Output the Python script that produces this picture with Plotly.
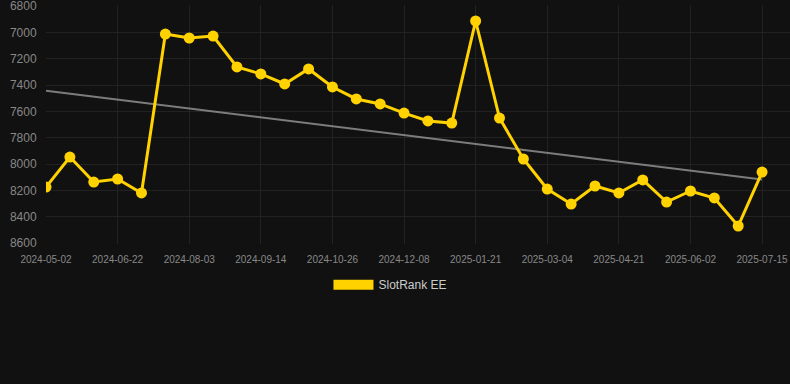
import numpy as np
import plotly.graph_objects as go

dates = [
    "2024-05-02", "2024-05-19", "2024-06-05", "2024-06-22", "2024-07-06", "2024-07-20",
    "2024-08-03", "2024-08-17", "2024-08-31", "2024-09-14", "2024-09-28", "2024-10-12",
    "2024-10-26", "2024-11-09", "2024-11-23", "2024-12-08", "2024-12-22", "2025-01-05",
    "2025-01-21", "2025-02-04", "2025-02-18", "2025-03-04", "2025-03-20", "2025-04-05",
    "2025-04-21", "2025-05-05", "2025-05-19", "2025-06-02", "2025-06-16", "2025-06-30",
    "2025-07-15",
]
ranks = [
    8175, 7947, 8137, 8114, 8220, 7013,
    7043, 7028, 7263, 7316, 7392, 7278,
    7415, 7506, 7544, 7613, 7673, 7689,
    6914, 7651, 7962, 8190, 8304, 8167,
    8220, 8121, 8289, 8205, 8258, 8471,
    8061,
]
tick_labels = dates[::3]
y_ticks = [6800, 7000, 7200, 7400, 7600, 7800, 8000, 8200, 8400, 8600]
series_name = "SlotRank EE"

idx = np.arange(len(ranks))
slope, intercept = np.polyfit(idx, ranks, 1)
trend = slope * idx + intercept

fig = go.Figure()
fig.add_trace(go.Scatter(
    x=dates, y=trend, mode="lines",
    line=dict(color="rgba(160,160,160,0.75)", width=2),
    showlegend=False, hoverinfo="skip",
))
fig.add_trace(go.Scatter(
    x=dates, y=ranks, mode="lines+markers",
    line=dict(color="#FFD200", width=3),
    marker=dict(color="#FFD200", size=11),
    showlegend=False,
))
fig.add_trace(go.Scatter(
    x=[None], y=[None], mode="lines", name=series_name,
    line=dict(color="#FFD200", width=12),
))

fig.update_layout(
    width=790, height=384,
    paper_bgcolor="#111111", plot_bgcolor="#111111",
    margin=dict(l=46, r=0, t=5, b=140),
    font=dict(family="Liberation Sans, Arial, sans-serif", color="#888888"),
    legend=dict(
        orientation="h", x=0.463, xanchor="center", y=-0.17, yanchor="middle",
        font=dict(size=12, color="#CCCCCC"), itemwidth=40,
    ),
    xaxis=dict(
        type="category", range=[0, 31.17],
        tickmode="array", tickvals=tick_labels, ticktext=tick_labels,
        tickfont=dict(size=10, color="#888888"),
        showgrid=True, gridcolor="#222222", zeroline=False, showline=False,
        ticks="outside", ticklen=6, tickcolor="rgba(0,0,0,0)",
        ticklabeloverflow="allow",
    ),
    yaxis=dict(
        autorange=False, range=[8607.6, 6792.4],
        tickmode="array", tickvals=y_ticks,
        tickfont=dict(size=12, color="#888888"),
        showgrid=True, gridcolor="#222222", zeroline=False, showline=False,
        ticks="outside", ticklen=6, tickcolor="rgba(0,0,0,0)",
        ticklabeloverflow="allow",
    ),
)

fig.write_html(
    "out.html",
    config={"displayModeBar": False},
    post_script="document.body.style.margin='0';document.body.style.background='#111111';",
)
